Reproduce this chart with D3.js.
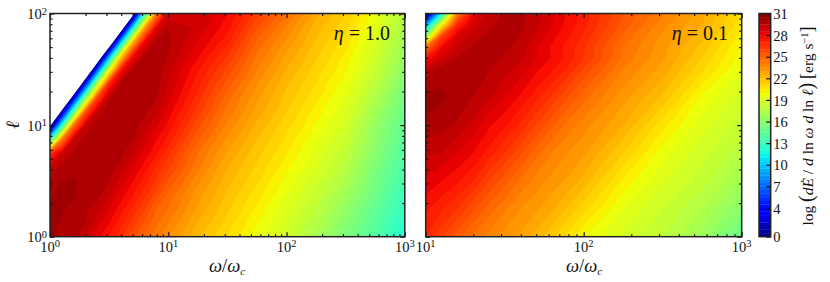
<!DOCTYPE html>
<html lang="en">
<head>
<meta charset="utf-8" />
<title>Emission maps</title>
<style>
  html, body { margin: 0; padding: 0; background: #fff; }
  svg { display: block; }
  text { font-family: "Liberation Serif", serif; fill: #111; }
  .axis path, .axis line { stroke: #111; stroke-width: 1.2; fill: none; }
  .frame { fill: none; stroke: #222; stroke-width: 1.5; }
</style>
<script src="https://d3js.org/d3.v7.min.js"></script>
</head>
<body>
<svg width="830" height="282"></svg>
<script>
// grid positions, log10 of omega/omega_c and log10 of ell
var logOmegaA = [0, .1, .2, .3, .4, .5, .6, .7, .8, .9, 1, 1.25, 1.5, 1.75, 2, 2.25, 2.5, 2.75, 3];
var logEllA = [0, .125, .25, .375, .5, .625, .75, .875, 1, 1.125, 1.25, 1.375, 1.5, 1.625, 1.75, 1.875, 2];
var valuesA = [
  [30.2, 29.9, 29.7, 29, 28.2, 27.5, 26.6, 25.7, 24.8, 24.2, 23.5, 22.1, 21, 19.7, 18.6, 17.2, 15.5, 14, 12],
  [30.1, 29.95, 29.8, 29.5, 28.75, 28, 27.2, 26.3, 25.4, 24.6, 24, 22.5, 21.3, 20.05, 18.95, 17.6, 16, 14.3, 12.4],
  [30.1, 30.05, 29.9, 29.6, 29.25, 28.5, 27.75, 26.9, 26.05, 25, 24.5, 22.9, 21.6, 20.4, 19.15, 18, 16.4, 14.6, 12.8],
  [29.9, 30.2, 30.05, 29.8, 29.7, 29.05, 28.25, 27.55, 26.65, 25.75, 24.85, 23.2, 21.9, 20.75, 19.5, 18.35, 16.9, 15, 13.1],
  [29.7, 30, 30.05, 29.85, 29.8, 29.5, 28.8, 28, 27.25, 26.4, 25.45, 23.65, 22.2, 21.1, 19.8, 18.7, 17.4, 15.3, 13.4],
  [29.2, 29.6, 29.8, 29.9, 29.85, 29.75, 29.3, 28.55, 27.8, 26.9, 26.1, 24.15, 22.5, 21.4, 20.2, 19.1, 17.75, 15.6, 13.7],
  [26.5, 28.8, 29.6, 29.85, 29.85, 29.8, 29.65, 29.1, 28.3, 27.6, 26.7, 24.5, 22.9, 21.7, 20.55, 19.3, 18.1, 16, 14],
  [12, 24, 29, 29.7, 29.85, 29.8, 29.7, 29.55, 28.85, 28.05, 27.35, 25.1, 23.4, 22, 20.9, 19.6, 18.5, 16.3, 14.2],
  [-1, 12, 24.5, 29, 29.8, 29.8, 29.8, 29.7, 29.35, 28.6, 27.85, 25.7, 23.85, 22.4, 21.2, 20, 18.85, 16.5, 14.5],
  [-14, .8, 14, 25.4, 29.1, 29.8, 29.8, 29.75, 29.6, 29.15, 28.3, 26.3, 24.35, 22.8, 21.55, 20.3, 19.1, 17, 14.9],
  [-20, -12.6, 2.4, 15.5, 26, 29.4, 29.8, 29.8, 29.7, 29.6, 28.7, 26.8, 24.7, 23.15, 21.8, 20.7, 19.4, 17.5, 15.3],
  [-20, -20, -11, 4.2, 17.5, 27, 29.6, 29.8, 29.75, 29.7, 29, 27.2, 25.3, 23.55, 22.1, 21, 19.75, 18, 15.7],
  [-20, -20, -20, -9, 6, 19, 27.5, 29.5, 29.8, 29.8, 29.2, 27.6, 25.9, 24, 22.5, 21.3, 20.1, 18.4, 16.2],
  [-20, -20, -20, -20, -7, 7.8, 20.8, 27.8, 29.5, 29.8, 29.5, 28.1, 26.55, 24.45, 22.9, 21.6, 20.4, 18.7, 16.6],
  [-20, -20, -20, -20, -20, -5.5, 9.4, 22, 28, 29.7, 29.6, 28.5, 27.2, 24.9, 23.4, 21.9, 20.8, 19, 17],
  [-20, -20, -20, -20, -20, -20, -3.8, 11, 23, 28.4, 29.5, 28.9, 27.7, 25.55, 23.9, 22.25, 21.15, 19.4, 17.3],
  [-20, -20, -20, -20, -20, -20, -20, -2, 13, 24, 28.6, 29, 28, 26.3, 24.6, 22.7, 21.5, 19.7, 17.6]
];

var logOmegaB = [1, 1.1, 1.2, 1.3, 1.4, 1.5, 1.6, 1.7, 1.8, 1.9, 2, 2.25, 2.5, 2.75, 3];
var logEllB = [0, .25, .5, .75, 1, 1.25, 1.5, 1.6, 1.7, 1.8, 1.9, 2];
// same quantity, eta = 0.1 panel
var valuesB = [
  [27, 26.1, 25.2, 24.4, 23.8, 23.3, 22.9, 22.3, 21.6, 20.8, 20, 18.9, 18, 16.8, 14.8],
  [27.6, 27.1, 26.5, 25.6, 24.8, 24.1, 23.5, 23.1, 22.6, 21.9, 21.2, 19.5, 18.5, 17.5, 16],
  [28.4, 28, 27.6, 27, 26, 25.2, 24.4, 23.8, 23.3, 22.9, 22.3, 20.4, 19.1, 18.2, 17],
  [29.1, 29, 28.5, 28, 27.3, 26.5, 25.6, 24.7, 24, 23.5, 23.1, 21.5, 19.7, 18.7, 17.7],
  [29.9, 29.7, 29.4, 28.85, 28.1, 27.6, 26.9, 26, 25.1, 24.3, 23.75, 22.5, 20.7, 19.2, 18.3],
  [30.2, 30.1, 29.85, 29.5, 29.1, 28.5, 27.9, 27.2, 26.4, 25.5, 24.7, 23.2, 21.9, 19.9, 18.8],
  [29.2, 29.8, 30, 29.75, 29.55, 29.2, 28.8, 28.1, 27.6, 26.9, 25.9, 24, 22.8, 21.1, 19.5],
  [27.5, 28.8, 29.5, 29.75, 29.65, 29.45, 29.1, 28.5, 27.95, 27.3, 26.5, 24.35, 23.1, 21.5, 19.7],
  [24.5, 28, 29, 29.6, 29.7, 29.6, 29.3, 28.6, 27.9, 27.3, 26.6, 24.5, 23.2, 21.8, 20],
  [16, 26, 28.5, 29.3, 29.6, 29.7, 29.5, 28.9, 28.2, 27.6, 26.9, 24.9, 23.4, 22.2, 20.3],
  [8.5, 20, 27, 28.8, 29.4, 29.65, 29.65, 29.1, 28.5, 27.8, 27.2, 25.3, 23.7, 22.5, 20.6],
  [0, 11.5, 24, 28, 29.2, 29.6, 29.7, 29.2, 28.6, 27.9, 27.3, 25.5, 24.1, 22.7, 20.9]
];

// contour levels and colour bar
var levels = d3.range(0, 31, 0.5);
var barTicks = [0, 4, 7, 10, 13, 16, 19, 22, 25, 28, 31];

// jet colormap
var jetR = d3.scaleLinear().domain([0, .35, .66, .89, 1]).range([0, 0, 1, 1, .5]).clamp(true);
var jetG = d3.scaleLinear().domain([0, .125, .375, .64, .91, 1]).range([0, 0, 1, 1, 0, 0]).clamp(true);
var jetB = d3.scaleLinear().domain([0, .11, .34, .65, 1]).range([.5, 1, 1, 0, 0]).clamp(true);
function jet(v) {
  var t = v / 31;
  return d3.rgb(jetR(t) * 255, jetG(t) * 255, jetB(t) * 255).formatHex();
}

var svg = d3.select("svg");
var top_ = 13.5, bottom = 236.7;

function powerLabel(sel, base, exp) {
  sel.text(null);
  sel.append("tspan").text(base);
  sel.append("tspan").attr("dy", "-0.42em").style("font-size", "10.5px").text(exp);
}

function panel(id, left, right, logOmega, logEll, values, xDomain, showY) {
  var x = d3.scaleLog().domain(xDomain).range([left, right]);
  var y = d3.scaleLog().domain([1, 100]).range([bottom, top_]);
  var g = svg.append("g");

  g.append("clipPath").attr("id", id).append("rect")
    .attr("x", left).attr("y", top_).attr("width", right - left).attr("height", bottom - top_);

  // grid index -> data position (grid is not evenly spaced)
  var ix = d3.scaleLinear().domain(d3.range(logOmega.length)).range(logOmega).clamp(true);
  var iy = d3.scaleLinear().domain(d3.range(logEll.length)).range(logEll).clamp(true);
  var path = d3.geoPath(d3.geoTransform({
    point: function(a, b) {
      this.stream.point(x(Math.pow(10, ix(a - 0.5))), y(Math.pow(10, iy(b - 0.5))));
    }
  }));

  var contours = d3.contours().size([logOmega.length, logEll.length]).thresholds(levels)(values.flat());
  g.append("g").attr("clip-path", "url(#" + id + ")")
    .selectAll("path").data(contours).enter().append("path")
    .attr("d", path)
    .attr("fill", function(d) { return jet(d.value + 0.25); });

  var major = function(d) { return Number.isInteger(Math.round(Math.log10(d) * 1e6) / 1e6); };
  var xTicks = x.ticks(), yTicks = y.ticks();
  var axes = [
    [d3.axisBottom(x), xTicks, "translate(0," + bottom + ")"],
    [d3.axisTop(x), xTicks, "translate(0," + top_ + ")"],
    [d3.axisLeft(y), yTicks, "translate(" + left + ",0)"],
    [d3.axisRight(y), yTicks, "translate(" + right + ",0)"]
  ];
  axes.forEach(function(a) {
    var minor = g.append("g").attr("class", "axis").attr("transform", a[2])
      .call(a[0].tickValues(a[1].filter(function(d) { return !major(d); })).tickSize(-2.5).tickSizeOuter(0).tickFormat(""));
    minor.select(".domain").remove();
    var maj = g.append("g").attr("class", "axis").attr("transform", a[2])
      .call(a[0].tickValues(a[1].filter(major)).tickSize(-4.5).tickFormat(""));
    maj.select(".domain").remove();
  });

  g.append("rect").attr("class", "frame")
    .attr("x", left).attr("y", top_).attr("width", right - left).attr("height", bottom - top_);

  // tick labels
  g.selectAll(".xlab").data(xTicks.filter(major)).enter().append("text")
    .attr("x", function(d) { return x(d); }).attr("y", 251.7)
    .attr("text-anchor", "middle").style("font-size", "14.5px")
    .each(function(d) { powerLabel(d3.select(this), "10", Math.round(Math.log10(d))); });
  if (showY) {
    g.selectAll(".ylab").data(yTicks.filter(major)).enter().append("text")
      .attr("x", left - 3).attr("y", function(d) { return y(d) + 5.7; })
      .attr("text-anchor", "end").style("font-size", "14.5px")
      .each(function(d) { powerLabel(d3.select(this), "10", Math.round(Math.log10(d))); });
  }
  return g;
}

function xTitle(cx) {
  var t = svg.append("text").attr("x", cx).attr("y", 272).attr("text-anchor", "middle")
    .style("font-size", "18.5px").style("font-style", "italic");
  t.append("tspan").text("ω");
  t.append("tspan").style("font-style", "normal").text("/");
  t.append("tspan").text("ω");
  t.append("tspan").attr("dy", 3).style("font-size", "11px").text("c");
}
function etaLabel(xEnd, val) {
  var t = svg.append("text").attr("x", xEnd).attr("y", 40).attr("text-anchor", "end").style("font-size", "20px");
  t.append("tspan").style("font-style", "italic").text("η");
  t.append("tspan").text(" = " + val);
}

panel("clipA", 50, 404.8, logOmegaA, logEllA, valuesA, [1, 1000], true);
panel("clipB", 425.7, 741.7, logOmegaB, logEllB, valuesB, [10, 1000], false);
xTitle(227);
xTitle(584);
etaLabel(390, "1.0");
etaLabel(728, "0.1");

svg.append("text").attr("transform", "translate(19,125) rotate(-90)")
  .attr("text-anchor", "middle").style("font-size", "19px").style("font-style", "italic").text("ℓ");

// colour bar
var barX = 759, barW = 11.7;
var bar = d3.scaleLinear().domain([0, 31]).range([bottom, top_]);
svg.append("g").selectAll("rect").data(levels).enter().append("rect")
  .attr("x", barX).attr("width", barW)
  .attr("y", function(d) { return bar(d + 0.5); })
  .attr("height", function(d) { return bar(d) - bar(d + 0.5) + 0.3; })
  .attr("fill", function(d) { return jet(d + 0.25); });
var barAxis = svg.append("g").attr("class", "axis").attr("transform", "translate(" + (barX + barW) + ",0)")
  .call(d3.axisRight(bar).tickValues(barTicks).tickSize(-4.5).tickPadding(2.5).tickFormat(d3.format("d")));
barAxis.select(".domain").remove();
barAxis.selectAll("text").attr("dy", "0.36em").style("font-size", "14.5px").style("font-family", "Liberation Serif");
svg.append("rect").attr("class", "frame").attr("x", barX).attr("y", top_).attr("width", barW).attr("height", bottom - top_);

var cb = svg.append("text").attr("transform", "translate(813,126) rotate(-90)")
  .attr("text-anchor", "middle").style("font-size", "15.5px");
cb.append("tspan").text("log ");
cb.append("tspan").style("font-size", "20px").text("(");
cb.append("tspan").style("font-style", "italic").text("dE\u0307");
cb.append("tspan").text(" / ");
cb.append("tspan").style("font-style", "italic").text("d");
cb.append("tspan").text(" ln ");
cb.append("tspan").style("font-style", "italic").text("ω d");
cb.append("tspan").text(" ln ");
cb.append("tspan").style("font-style", "italic").text("ℓ");
cb.append("tspan").style("font-size", "20px").text(")");
cb.append("tspan").text("  ");
cb.append("tspan").style("font-size", "18px").text("[");
cb.append("tspan").text("erg s");
cb.append("tspan").attr("dy", -5).style("font-size", "10.5px").text("−1");
cb.append("tspan").attr("dy", 5).style("font-size", "18px").text("]");
</script>
</body>
</html>
